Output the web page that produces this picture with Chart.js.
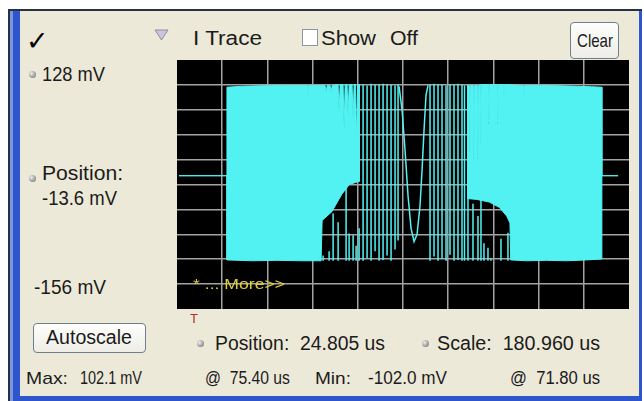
<!DOCTYPE html>
<html>
<head>
<meta charset="utf-8">
<script src="https://cdn.jsdelivr.net/npm/chart.js@4.4.1/dist/chart.umd.min.js"></script>
<style>
  html, body { margin: 0; padding: 0; background: #fff; }
  body { width: 644px; height: 401px; position: relative; overflow: hidden;
         font-family: "Liberation Sans", Arial, sans-serif; }
  .abs { position: absolute; }
  #frame { left: 8px; top: 9px; width: 634px; height: 392px; background: #2f55cc; }
  #edgeTop { left: 8px; top: 9px; width: 634px; height: 2px; background: #283044; }
  #edgeLeft { left: 8px; top: 9px; width: 2px; height: 392px; background: #283044; }
  #edgeLeft2 { left: 10px; top: 11px; width: 3px; height: 390px; background: #7d95df; }
  #panel { left: 20px; top: 11px; width: 619px; height: 385px; background: #ece9d8; }
  .t { position: absolute; white-space: pre; line-height: 1; transform-origin: 0 50%; color: #1b1b1b; }
  .btn { position: absolute; border: 1px solid #707f8e; border-radius: 4px; box-sizing: border-box;
         background: linear-gradient(#fefefc, #eeede6); }
  .dot { position: absolute; width: 7px; height: 7px; border-radius: 50%;
         background: radial-gradient(circle at 35% 35%, #eeeeee, #8e8e8e 70%, #666 100%); }
  #plot { left: 177px; top: 60px; width: 452px; height: 249px; background: #000; }
  #check { left: 302px; top: 29px; width: 16px; height: 17px; background: #fff;
           border: 1px solid #8a98a6; box-sizing: border-box; }
</style>
</head>
<body>
<div id="frame" class="abs"></div>
<div id="edgeTop" class="abs"></div>
<div id="edgeLeft" class="abs"></div>
<div id="edgeLeft2" class="abs"></div>
<div id="panel" class="abs"></div>
<div class="btn" style="left:570px;top:22px;width:49px;height:37px;"></div>
<div class="btn" style="left:33px;top:323px;width:113px;height:30px;"></div>
<div id="check" class="abs"></div>
<svg class="abs" style="left:154px;top:29px" width="15" height="12">
  <polygon points="1,1 14,1 7.5,11" fill="#c9c6dc" stroke="#8f8ca6" stroke-width="1"/>
</svg>
<div class="dot" style="left:29px;top:71px"></div>
<div class="dot" style="left:29px;top:175px"></div>
<div class="dot" style="left:197px;top:340px"></div>
<div class="dot" style="left:422px;top:340px"></div>
<div id="plot" class="abs"><canvas id="scope" width="452" height="249"></canvas></div>

<script>
// Display settings: 10 x 10 graticule
const TIME_PER_DIV = 180.96;        // us per division
const X_DIVS = 10;
const VOLT_TOP = 128;               // mV
const VOLT_BOTTOM = -156;           // mV
const Y_DIVS = 10;
const TRIGGER_T = 68;               // us, trigger marker position

// Burst envelope, first part (time us / level mV)
const leftTopT = [8, 200, 200, 260, 330, 420, 521, 524, 527, 593, 597, 601, 613, 617, 621,
                  645, 649, 653, 665, 669, 673, 681, 685, 689, 701, 705, 709, 715, 719, 723, 733];
const leftTopV = [-4, -4, 97, 98, 98.5, 99, 99, 86, 99, 99, 90, 99, 99, 91, 99,
                  100, 68, 100, 100, 48, 100, 100, 63, 100, 100, 59, 100, 100, 36, 100, 100];
const leftBotT = [8, 200, 200, 300, 400, 500, 577, 581, 620, 660, 690, 733];
const leftBotV = [-4, -4, -100, -101, -100.5, -101, -101, -55, -45, -25, -14, -10];

// Burst envelope, second part
const rightTopT = [1161, 1170, 1173, 1176, 1186, 1189, 1192, 1202, 1205, 1208, 1214, 1217, 1220,
                   1246, 1249, 1252, 1282, 1285, 1288, 1306, 1309, 1312, 1386, 1389, 1392,
                   1460, 1540, 1600, 1660, 1701, 1701, 1766];
const rightTopV = [99, 99, 25, 99, 99, 13, 99, 99, 16, 99, 100, 31, 100,
                   100, 56, 100, 100, 56, 100, 100, 88, 100, 99, 88, 99,
                   99, 98.5, 98, 97.5, 97, -4, -4];
const rightBotT = [1161, 1200, 1250, 1290, 1320, 1333, 1336, 1400, 1480, 1560, 1640, 1701, 1701, 1766];
const rightBotV = [-30, -31, -34, -40, -50, -58, -100, -101, -100.5, -101, -100, -99, -4, -4];

// Individual cycles in the low-frequency middle of the chirp (min / max per column)
const strokeT  = [585, 609, 625, 645, 677, 689, 705, 717, 729,
                  745, 761, 777, 793, 809, 825, 841, 857, 873, 885,
                  1013, 1029, 1045, 1061, 1077, 1093, 1109, 1125, 1141, 1151,
                  1165, 1185, 1205, 1217, 1229, 1245, 1257, 1297, 1325];
const strokeLo = [-101, -101, -101, -101, -101, -101, -101, -101, -101,
                  -101, -98, -101, -90, -101, -100, -95, -101, -88, -78,
                  -101, -96, -101, -99, -101, -94, -101, -100, -101, -101,
                  -101, -101, -101, -101, -101, -101, -101, -101, -101];
const strokeHi = [-95, -90, -47, -57, -16, -70, -72, -84, -64,
                  100, 99, 101, 100, 100, 101, 100, 100, 99, 100,
                  100, 101, 100, 100, 99, 100, 100, 101, 100, 99,
                  -13, -36, -50, -19, -81, -86, -98, -76, -69];

// Slowest cycle at the centre of the sweep
const curveT = [889, 901, 913, 925, 937, 949, 961, 973, 981, 989, 997, 1005];
const curveV = [98, 71, 25, -27, -64, -79, -71, -38, 2, 48, 88, 99];

const TRACE = '#52f2f2';
const GRID = '#a3a3a3';

const pts = (ts, vs) => ts.map((t, i) => ({ x: t, y: vs[i] }));
const strokePts = [];
strokeT.forEach((t, i) => {
  strokePts.push({ x: t, y: strokeLo[i] }, { x: t, y: strokeHi[i] }, { x: t, y: null });
});

const xMax = TIME_PER_DIV * X_DIVS;
const vPerDiv = (VOLT_TOP - VOLT_BOTTOM) / Y_DIVS;
const xTicks = Array.from({ length: X_DIVS + 1 }, (_, k) => ({ value: k * TIME_PER_DIV }));
const yTicks = Array.from({ length: Y_DIVS + 1 }, (_, k) => ({ value: VOLT_BOTTOM + k * vPerDiv }));

const edge = (ctx, n) => (ctx.index === 0 || ctx.index === n) ? 'rgba(0,0,0,0)' : GRID;

const base = { borderColor: TRACE, borderWidth: 1, pointRadius: 0, backgroundColor: TRACE, tension: 0 };

const chart = new Chart(document.getElementById('scope'), {
  type: 'line',
  data: {
    datasets: [
      { ...base, label: 'envA+', data: pts(leftTopT, leftTopV), fill: false },
      { ...base, label: 'envA-', data: pts(leftBotT, leftBotV), fill: '-1' },
      { ...base, label: 'envB+', data: pts(rightTopT, rightTopV), fill: false },
      { ...base, label: 'envB-', data: pts(rightBotT, rightBotV), fill: '-1' },
      { ...base, label: 'cycles', data: strokePts, borderWidth: 1.5, fill: false, spanGaps: false },
      { ...base, label: 'slow', data: pts(curveT, curveV), borderWidth: 1.5, fill: false }
    ]
  },
  options: {
    responsive: false,
    animation: false,
    devicePixelRatio: 1,
    layout: { padding: 0 },
    plugins: { legend: { display: false }, tooltip: { enabled: false } },
    scales: {
      x: {
        type: 'linear', min: 0, max: xMax,
        afterBuildTicks: a => { a.ticks = xTicks; },
        ticks: { display: false },
        grid: { color: c => edge(c, X_DIVS), lineWidth: 1.5, drawTicks: false },
        border: { display: false }
      },
      y: {
        type: 'linear', min: VOLT_BOTTOM, max: VOLT_TOP,
        afterBuildTicks: a => { a.ticks = yTicks; },
        ticks: { display: false },
        grid: { color: c => edge(c, Y_DIVS), lineWidth: 1.5, drawTicks: false },
        border: { display: false }
      }
    }
  }
});

// Panel labels
const labels = [
  { text: '\u2713', x: 26, cy: 40, fs: 27, font: '"DejaVu Sans"', bold: true, color: '#000' },
  { text: 'I Trace', x: 193, cy: 38, fs: 20, w: 69 },
  { text: 'Show', x: 321, cy: 38, fs: 20, w: 55 },
  { text: 'Off', x: 390, cy: 38, fs: 20, w: 28 },
  { text: 'Clear', x: 577, cy: 40, fs: 19, w: 36 },
  { text: '128 mV', x: 42, cy: 74, fs: 20, w: 63 },
  { text: 'Position:', x: 42, cy: 173, fs: 20, w: 81 },
  { text: '-13.6 mV', x: 42, cy: 198, fs: 20, w: 75 },
  { text: '-156 mV', x: 34, cy: 287, fs: 20, w: 72 },
  { text: 'Autoscale', x: 46, cy: 337, fs: 20, w: 86 },
  { text: 'Position:  24.805 us', x: 215, cy: 343, fs: 20, w: 170 },
  { text: 'Scale:  180.960 us', x: 437, cy: 343, fs: 20, w: 163 },
  { text: 'Max:', x: 26, cy: 378, fs: 17, w: 42 },
  { text: '102.1 mV', x: 80, cy: 378, fs: 18, w: 62 },
  { text: '@  75.40 us', x: 205, cy: 378, fs: 18, w: 85 },
  { text: 'Min:', x: 315, cy: 378, fs: 17, w: 36 },
  { text: '-102.0 mV', x: 368, cy: 378, fs: 18, w: 79 },
  { text: '@  71.80 us', x: 510, cy: 378, fs: 18, w: 90 },
  { text: '* ... More>>', x: 193, cy: 283, fs: 15, w: 92, color: '#e0cf3c' }
];

const plotBox = document.getElementById('plot');
labels.push({
  text: 'T', x: plotBox.offsetLeft + chart.scales.x.getPixelForValue(TRIGGER_T) - 4,
  cy: 318, fs: 13, color: '#b0301c'
});

labels.forEach(s => {
  const d = document.createElement('div');
  d.className = 't';
  d.textContent = s.text;
  d.style.fontSize = s.fs + 'px';
  d.style.left = s.x + 'px';
  d.style.top = (s.cy - 0.49 * s.fs) + 'px';
  if (s.color) d.style.color = s.color;
  if (s.font) d.style.fontFamily = s.font;
  if (s.bold) d.style.fontWeight = 'bold';
  document.body.appendChild(d);
  if (s.w) {
    const w = d.getBoundingClientRect().width;
    d.style.transform = 'scaleX(' + (s.w / w).toFixed(3) + ')';
  }
});
</script>
</body>
</html>
